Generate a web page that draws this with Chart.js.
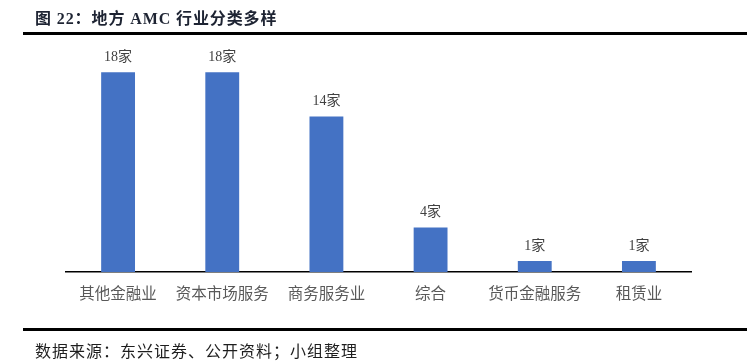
<!DOCTYPE html>
<html>
<head>
<meta charset="utf-8">
<script src="https://cdn.jsdelivr.net/npm/chart.js@4"></script>
<style>
    html, body { margin: 0; padding: 0; background: #fff; }
    #wrap { position: relative; width: 747px; height: 362px; overflow: hidden; }
    #title {
        position: absolute; left: 35px; top: 5px;
        font: bold 16px "Liberation Serif", "Noto Sans CJK SC", serif;
        color: #1e2433; letter-spacing: 0.9px;
    }
    .rule { position: absolute; left: 23px; width: 724px; height: 3px; background: #000; }
    #source {
        position: absolute; left: 35px; top: 338px;
        font: 16px "Liberation Serif", "Noto Sans CJK SC", serif;
        color: #1e1e1e; letter-spacing: 1px;
    }
    #chart { position: absolute; left: 0; top: 0; }
</style>
</head>
<body>
<div id="wrap">
    <canvas id="chart" width="747" height="362"></canvas>
    <div id="title">图 22：地方 AMC 行业分类多样</div>
    <div class="rule" style="top:32px"></div>
    <div class="rule" style="top:328px"></div>
    <div id="source">数据来源：东兴证券、公开资料；小组整理</div>
</div>
<script>
    // categories and counts
    const categories = ['其他金融业', '资本市场服务', '商务服务业', '综合', '货币金融服务', '租赁业'];
    const counts = [18, 18, 14, 4, 1, 1];
    const unit = '家';

    // value labels above each bar
    const valueLabels = {
        id: 'valueLabels',
        afterDatasetsDraw(chart) {
            const ctx = chart.ctx;
            const meta = chart.getDatasetMeta(0);
            ctx.save();
            ctx.fillStyle = '#404040';
            ctx.font = '14px "Liberation Serif", "Noto Sans CJK SC", serif';
            ctx.textAlign = 'center';
            ctx.textBaseline = 'bottom';
            meta.data.forEach((bar, i) => {
                ctx.fillText(counts[i] + unit, bar.x, bar.y - 8);
            });
            ctx.restore();
        }
    };

    const ctx = document.getElementById('chart').getContext('2d');
    new Chart(ctx, {
        type: 'bar',
        data: {
            labels: categories,
            datasets: [{
                data: counts,
                backgroundColor: '#4472C4',
                barPercentage: 0.325,
                categoryPercentage: 1
            }]
        },
        options: {
            responsive: false,
            animation: false,
            layout: { padding: { left: 66, right: 56, top: 50, bottom: 50 } },
            plugins: {
                legend: { display: false },
                tooltip: { enabled: false }
            },
            scales: {
                x: {
                    grid: { display: false },
                    border: { display: true, color: '#000', width: 1.5 },
                    ticks: {
                        color: '#595959',
                        padding: 4,
                        maxRotation: 0,
                        font: { family: '"Noto Sans CJK SC", sans-serif', size: 15.5 }
                    },
                    afterFit(scale) { scale.height = 40; }
                },
                y: {
                    display: false,
                    min: 0,
                    max: 20
                }
            }
        },
        plugins: [valueLabels]
    });
</script>
</body>
</html>
